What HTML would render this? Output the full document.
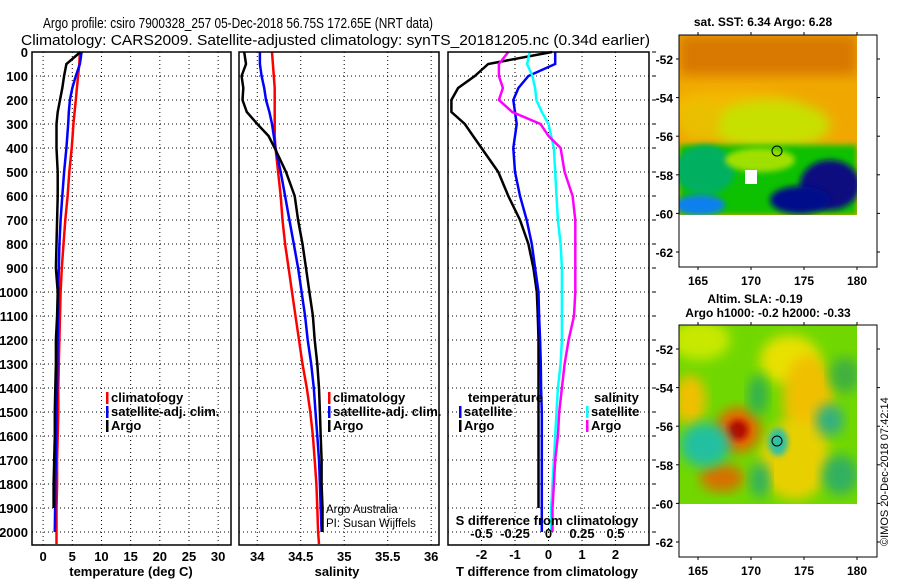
<!DOCTYPE html>
<html><head><meta charset="utf-8"><style>
html,body{margin:0;padding:0;background:#fff;}
svg{display:block;font-family:"Liberation Sans",sans-serif;}
</style></head><body>
<svg id="c" width="900" height="580" viewBox="0 0 900 580">
<defs>
<filter id="bl" x="-20%" y="-20%" width="140%" height="140%"><feGaussianBlur stdDeviation="6"/></filter>
<filter id="bl2" x="-20%" y="-20%" width="140%" height="140%"><feGaussianBlur stdDeviation="3"/></filter>
<clipPath id="m1c"><rect x="679" y="35" width="178" height="180"/></clipPath>
<clipPath id="m2c"><rect x="679" y="325" width="178" height="179"/></clipPath>
</defs>
<text x="43" y="28" font-size="15" textLength="390" lengthAdjust="spacingAndGlyphs">Argo profile: csiro 7900328_257 05-Dec-2018 56.75S 172.65E (NRT data)</text>
<text x="21" y="45" font-size="15" textLength="629" lengthAdjust="spacingAndGlyphs">Climatology: CARS2009. Satellite-adjusted climatology: synTS_20181205.nc (0.34d earlier)</text>

<g>
<g clip-path="url(#m1c)">
<rect x="679" y="35" width="178" height="180" fill="#f0a800"/>
<rect x="679" y="35" width="178" height="40" fill="#d87800" filter="url(#bl)"/>
<ellipse cx="730" cy="110" rx="70" ry="20" fill="#f5b800" filter="url(#bl)"/>
<ellipse cx="770" cy="125" rx="60" ry="25" fill="#c8e000" filter="url(#bl)"/>
<ellipse cx="700" cy="120" rx="20" ry="20" fill="#e8c000" filter="url(#bl)"/>
<rect x="679" y="145" width="178" height="70" fill="#10c000" filter="url(#bl2)"/>
<ellipse cx="705" cy="170" rx="30" ry="25" fill="#00b060" filter="url(#bl2)"/>
<ellipse cx="830" cy="185" rx="30" ry="25" fill="#0a0a80" filter="url(#bl2)"/>
<ellipse cx="800" cy="200" rx="30" ry="14" fill="#000a8a" filter="url(#bl2)"/>
<ellipse cx="700" cy="205" rx="25" ry="10" fill="#1080f0" filter="url(#bl2)"/>
<ellipse cx="760" cy="160" rx="35" ry="12" fill="#a0e000" filter="url(#bl2)"/>
<rect x="745" y="170" width="12" height="14" fill="#fff"/>
<rect x="679" y="215" width="178" height="60" fill="#fff"/>
</g>
<rect x="679" y="35" width="198" height="232" fill="none" stroke="#000"/>
<circle cx="777" cy="151" r="5" fill="none" stroke="#000"/>
<text font-weight="bold" font-size="12" x="763" y="26" text-anchor="middle">sat. SST: 6.34 Argo: 6.28</text>
</g>

<g>
<g clip-path="url(#m2c)">
<rect x="679" y="325" width="178" height="179" fill="#70d800"/>
<ellipse cx="700" cy="340" rx="30" ry="20" fill="#c8e800" filter="url(#bl)"/>
<ellipse cx="790" cy="360" rx="30" ry="25" fill="#e8e000" filter="url(#bl)"/>
<ellipse cx="808" cy="400" rx="25" ry="45" fill="#f0c000" filter="url(#bl)"/>
<ellipse cx="795" cy="460" rx="35" ry="40" fill="#e8d000" filter="url(#bl)"/>
<ellipse cx="738" cy="430" rx="22" ry="22" fill="#e86000" filter="url(#bl)"/>
<ellipse cx="738" cy="430" rx="10" ry="10" fill="#b01000" filter="url(#bl2)"/>
<ellipse cx="722" cy="478" rx="22" ry="14" fill="#d87000" filter="url(#bl)"/>
<ellipse cx="690" cy="400" rx="16" ry="25" fill="#f0c000" filter="url(#bl)"/>
<ellipse cx="705" cy="445" rx="25" ry="22" fill="#20c0a0" filter="url(#bl)"/>
<ellipse cx="758" cy="395" rx="10" ry="20" fill="#30b050" filter="url(#bl)"/>
<ellipse cx="830" cy="420" rx="14" ry="16" fill="#30b080" filter="url(#bl)"/>
<ellipse cx="778" cy="442" rx="10" ry="14" fill="#30c0a0" filter="url(#bl2)"/>
<ellipse cx="760" cy="480" rx="10" ry="18" fill="#30b060" filter="url(#bl)"/>
<ellipse cx="840" cy="475" rx="18" ry="20" fill="#30b060" filter="url(#bl)"/>
<ellipse cx="845" cy="375" rx="15" ry="18" fill="#40b040" filter="url(#bl)"/>
</g>
<rect x="679" y="325" width="198" height="232" fill="none" stroke="#000"/>
<circle cx="777" cy="441" r="5" fill="none" stroke="#000"/>
<text font-weight="bold" font-size="12" x="755" y="303" text-anchor="middle">Altim. SLA: -0.19</text>
<text font-weight="bold" font-size="12" x="768" y="317" text-anchor="middle">Argo h1000: -0.2 h2000: -0.33</text>
</g>
<text font-size="11" transform="translate(888,546) rotate(-90)">©IMOS 20-Dec-2018 07:42:14</text>

<g id="plots"></g>
</svg>
<script>
// depth levels (dbar)
const depths = [0,50,100,150,200,250,300,350,400,500,600,700,800,900,1000,1100,1200,1300,1400,1500,1600,1700,1800,1900,2000,2050];
// temperature (deg C)
const tClim = [6.3,6.2,6.0,5.8,5.6,5.4,5.2,5.05,4.9,4.5,4.2,3.8,3.5,3.2,3.0,2.9,2.8,2.7,2.6,2.6,2.5,2.4,2.4,2.3,2.3,2.3];
const tSat  = [6.6,6.3,5.6,5.0,4.6,4.4,4.3,4.15,4.0,3.6,3.3,3.0,2.8,2.7,2.6,2.55,2.5,2.45,2.4,2.3,2.25,2.2,2.1,2.05,2.0,null];
const tArgo = [6.4,4.0,3.6,3.3,2.9,2.5,2.3,2.3,2.3,2.5,2.5,2.4,2.3,2.2,2.5,2.4,2.2,2.2,2.1,2.0,2.0,1.9,1.8,1.8,null,null];
// salinity
const sClim = [34.17,34.18,34.19,34.2,34.2,34.2,34.2,34.2,34.21,34.24,34.27,34.29,34.32,34.36,34.4,34.44,34.48,34.52,34.57,34.61,34.64,34.66,34.68,34.69,34.7,34.71];
const sSat  = [34.03,34.03,34.05,34.08,34.1,34.14,34.17,34.19,34.21,34.27,34.32,34.37,34.42,34.47,34.51,34.55,34.58,34.62,34.65,34.67,34.69,34.71,34.72,34.73,34.74,null];
const sArgo = [33.85,33.87,33.82,33.84,33.83,33.88,34.0,34.13,34.2,34.33,34.43,34.47,34.52,34.56,34.6,34.64,34.66,34.69,34.71,34.72,34.73,34.74,34.74,34.75,34.75,null];
// differences from climatology
const dtArgo = [0.1,-1.8,-2.2,-2.7,-2.9,-2.9,-2.5,-2.25,-2.0,-1.5,-1.2,-0.85,-0.6,-0.45,-0.35,-0.32,-0.3,-0.3,-0.3,-0.3,-0.3,-0.3,-0.3,-0.3,null,null];
const dtSat  = [0.2,0.2,-0.6,-0.9,-1.05,-1.0,-0.95,-1.0,-1.05,-1.0,-0.85,-0.65,-0.5,-0.4,-0.3,-0.28,-0.25,-0.23,-0.22,-0.2,-0.2,-0.2,-0.2,-0.2,-0.2,null];
const dsSat  = [-0.14,-0.16,-0.12,-0.1,-0.09,-0.05,0.0,0.02,0.04,0.05,0.06,0.07,0.09,0.1,0.1,0.1,0.1,0.09,0.07,0.06,0.05,0.04,0.03,0.02,0.02,null];
const dsArgo = [-0.3,-0.37,-0.37,-0.34,-0.37,-0.27,-0.06,0.0,0.09,0.12,0.18,0.2,0.2,0.2,0.2,0.19,0.15,0.12,0.1,0.08,0.07,0.05,0.04,0.03,0.03,null];
const depthTicks = [0,100,200,300,400,500,600,700,800,900,1000,1100,1200,1300,1400,1500,1600,1700,1800,1900,2000];
const tTicks = [0,5,10,15,20,25,30];
const sTicks = [34,34.5,35,35.5,36];
const sTickLabels = ['34','34.5','35','35.5','36'];
const dTicks = [-2,-1,0,1,2];
const dsTicks = [-0.5,-0.25,0,0.25,0.5];
const dsTickLabels = ['-0.5','-0.25','0','0.25','0.5'];

(function(){
const NS='http://www.w3.org/2000/svg';
const root=document.getElementById('plots');
function el(tag,attrs,parent){const e=document.createElementNS(NS,tag);for(const k in attrs)e.setAttribute(k,attrs[k]);(parent||root).appendChild(e);return e;}
const yTop=52, py=0.24, yBot=545;
const yD=d=>yTop+d*py;
function panel(name,x0,x1,vmin,vmax){
  const g=el('g',{});
  
  
  return {g,x0,x1,sx:v=>x0+(v-vmin)/(vmax-vmin)*(x1-x0)};
}
function grid(p,ticks){
  depthTicks.forEach(d=>{const l=el('line',{x1:p.x0,x2:p.x1,y1:yD(d),y2:yD(d),stroke:'#000','stroke-width':1,'stroke-dasharray':'1 3'},p.g);
    
    });
  ticks.forEach(v=>{const l=el('line',{x1:p.sx(v),x2:p.sx(v),y1:yTop,y2:yBot,stroke:'#000','stroke-width':1,'stroke-dasharray':'1 3'},p.g);
    
    });
}
function line(p,vals,color,name,sx){
  const f=sx||p.sx;const pts=[];
  depths.forEach((d,i)=>{if(vals[i]!=null)pts.push(f(vals[i]).toFixed(1)+','+yD(d).toFixed(1));});
  const pl=el('polyline',{points:pts.join(' '),fill:'none',stroke:color,'stroke-width':2.5},p.g);
  
  
}
function frame(p){const r=el('rect',{x:p.x0,y:yTop,width:p.x1-p.x0,height:yBot-yTop,fill:'none',stroke:'#000','stroke-width':1.5},p.g);
  
  }
function txt(p,x,y,s,opts,name){const t=el('text',Object.assign({x:x,y:y,'font-weight':'bold','font-size':13},opts||{}),p.g);t.textContent=s;
  
  return t;}
function legend(p,x,y,items){items.forEach((it,i)=>{
  const r=el('rect',{x:x,y:y+i*14-10,width:2.5,height:12,fill:it[1]},p.g);
  
  
  txt(p,x+5,y+i*14,it[0],{},'legend-entry');});}

const p1=panel('temperature-panel',32,231,-1.9,32.2);
grid(p1,tTicks);
line(p1,tClim,'#f00','temp-climatology-line');
line(p1,tSat,'#00f','temp-satellite-line');
line(p1,tArgo,'#000','temp-argo-line');
frame(p1);
depthTicks.forEach(d=>txt(p1,28,yD(d)+5,String(d),{'text-anchor':'end'},'depth-tick-label'));
tTicks.forEach(v=>txt(p1,p1.sx(v),561,String(v),{'text-anchor':'middle'},'temp-tick-label'));
txt(p1,131,576,'temperature (deg C)',{'text-anchor':'middle'},'x-axis-title-temperature');
legend(p1,106,402,[['climatology','#f00'],['satellite-adj. clim.','#00f'],['Argo','#000']]);

const p2=panel('salinity-panel',239,439,33.79,36.09);
grid(p2,sTicks);
line(p2,sClim,'#f00','sal-climatology-line');
line(p2,sSat,'#00f','sal-satellite-line');
line(p2,sArgo,'#000','sal-argo-line');
frame(p2);
sTicks.forEach((v,i)=>txt(p2,p2.sx(v),561,sTickLabels[i],{'text-anchor':'middle'},'sal-tick-label'));
txt(p2,337,576,'salinity',{'text-anchor':'middle'},'x-axis-title-salinity');
legend(p2,328,402,[['climatology','#f00'],['satellite-adj. clim.','#00f'],['Argo','#000']]);
txt(p2,326,513,'Argo Australia',{'font-weight':'normal','font-size':11.5},'credit-line-1');
txt(p2,326,527,'PI: Susan Wijffels',{'font-weight':'normal','font-size':11.5},'credit-line-2');

const p3=panel('difference-panel',448,649,-3,3);
const sxS=v=>p3.sx(v*4);
grid(p3,dTicks);
line(p3,dtArgo,'#000','tdiff-argo-line');
line(p3,dtSat,'#00f','tdiff-satellite-line');
line(p3,dsSat,'#0ff','sdiff-satellite-line',sxS);
line(p3,dsArgo,'#f0f','sdiff-argo-line',sxS);
frame(p3);
depthTicks.forEach(d=>{const l=el('line',{x1:652,x2:656,y1:yD(d),y2:yD(d),stroke:'#000'},p3.g);
  
  });
dTicks.forEach(v=>txt(p3,p3.sx(v),559,String(v),{'text-anchor':'middle'},'tdiff-tick-label'));
dsTicks.forEach((v,i)=>txt(p3,sxS(v),538,dsTickLabels[i],{'text-anchor':'middle'},'sdiff-tick-label'));
txt(p3,547,525,'S difference from climatology',{'text-anchor':'middle'},'s-diff-axis-title');
txt(p3,547,576,'T difference from climatology',{'text-anchor':'middle'},'x-axis-title-tdiff');
txt(p3,468,402,'temperature',{},'legend-title-temperature');
txt(p3,594,402,'salinity',{},'legend-title-salinity');
legend(p3,459,416,[['satellite','#00f'],['Argo','#000']]);
legend(p3,586,416,[['satellite','#0ff'],['Argo','#f0f']]);

function mapAxes(name,y0,lat52){
  const g=el('g',{});
  
  
  [165,170,175,180].forEach(l=>{const x=698+(l-165)*10.6;
    const t=el('text',{x:x,y:y0+232+18,'text-anchor':'middle','font-weight':'bold','font-size':12},g);t.textContent=String(l);
    
    
    el('line',{x1:x,x2:x,y1:y0,y2:y0-3,stroke:'#000'},g);el('line',{x1:x,x2:x,y1:y0+232,y2:y0+235,stroke:'#000'},g);});
  [-52,-54,-56,-58,-60,-62].forEach(la=>{const y=lat52+(-52-la)*19.3;
    const t=el('text',{x:673,y:y+5,'text-anchor':'end','font-weight':'bold','font-size':12},g);t.textContent=String(la);
    
    
    el('line',{x1:676,x2:679,y1:y,y2:y,stroke:'#000'},g);el('line',{x1:877,x2:880,y1:y,y2:y,stroke:'#000'},g);});
}
mapAxes('sst-map-axes',35,59);
mapAxes('sla-map-axes',325,349);
})();
</script>
</body></html>
